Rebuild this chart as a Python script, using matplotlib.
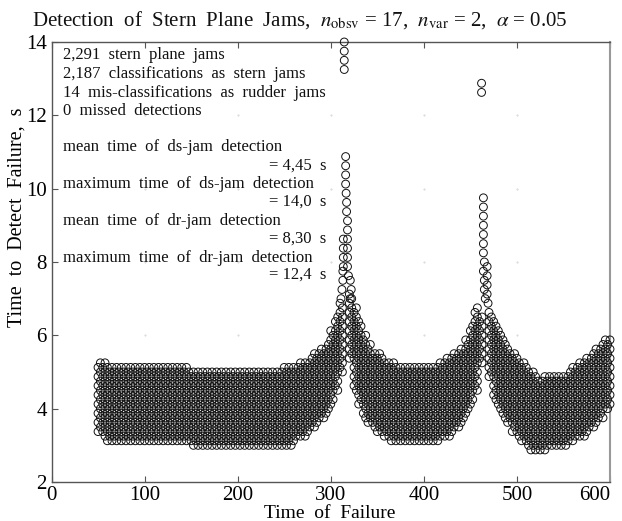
import numpy as np
import matplotlib
matplotlib.use("Agg")
import matplotlib.pyplot as plt

plt.rcParams['font.family'] = ['Liberation Serif', 'DejaVu Serif']
plt.rcParams['mathtext.fontset'] = 'stix'

# failure times (s), read every 5 units; a second staggered column sits 2.5 to the right
fail_start = 50
fail_step = 5
# lowest and highest detection time in each column, nan = only spike points there
time_lo = [3.375, 3.25,
           3.125, 3.125, 3.125, 3.125, 3.125, 3.125, 3.125, 3.125, 3.125,
           3.125, 3.125, 3.125, 3.125, 3.125, 3.125, 3.125, 3.125, 3.125,
           3.0, 3.0, 3.0, 3.0, 3.0, 3.0, 3.0, 3.0, 3.0, 3.0,
           3.0, 3.0, 3.0, 3.0, 3.0, 3.0, 3.0, 3.0, 3.0, 3.0,
           3.0, 3.0, 3.125, 3.25, 3.25, 3.375, 3.5, 3.625, 3.75, 3.875,
           4.125, 4.5, 5.0, np.nan,
           5.375, 4.5, 4.125, 3.75, 3.625, 3.5, 3.375, 3.25, 3.25, 3.125,
           3.125, 3.125, 3.125, 3.125, 3.125, 3.125, 3.125, 3.125, 3.125,
           3.125, 3.25, 3.25, 3.375, 3.5, 3.625, 3.875, 4.125, 4.5, 5.25, np.nan,
           4.875, 4.25, 4.0, 3.75, 3.625, 3.375, 3.25, 3.125, 3.0, 2.875,
           2.875, 2.875, 2.875, 3.0, 3.0, 3.0, 3.0, 3.125, 3.125, 3.25,
           3.25, 3.375, 3.5, 3.625, 3.75, 4.0, 4.125]
time_hi = [5.25, 5.25,
           5.125, 5.125, 5.125, 5.125, 5.125, 5.125, 5.125, 5.125, 5.125,
           5.125, 5.125, 5.125, 5.125, 5.125, 5.125, 5.125, 5.125, 5.125,
           5.0, 5.0, 5.0, 5.0, 5.0, 5.0, 5.0, 5.0, 5.0, 5.0,
           5.0, 5.0, 5.0, 5.0, 5.0, 5.0, 5.0, 5.0, 5.0, 5.0,
           5.125, 5.125, 5.125, 5.25, 5.25, 5.25, 5.5, 5.5, 5.625, 5.75,
           6.125, 6.5, 6.875, np.nan,
           7.125, 6.75, 6.375, 6.0, 5.75, 5.5, 5.5, 5.375, 5.25, 5.25,
           5.125, 5.125, 5.125, 5.125, 5.125, 5.125, 5.125, 5.125, 5.125,
           5.25, 5.25, 5.375, 5.5, 5.5, 5.625, 5.875, 6.25, 6.75, 6.5, np.nan,
           6.625, 6.375, 6.125, 5.875, 5.625, 5.5, 5.375, 5.25, 5.125, 5.0,
           4.875, 4.75, 4.875, 4.875, 4.875, 4.875, 4.875, 5.0, 5.125, 5.25,
           5.25, 5.375, 5.5, 5.625, 5.75, 5.875, 6.0]

# isolated detections above the two peaks
spike_x = [314.5, 314.5, 314.5, 314.5,
           316, 316, 316, 316, 316.5, 317, 317, 318, 318,
           313.5, 313.5, 313.5, 313.5, 318, 318, 318, 318,
           313, 313, 312, 311, 319, 321, 322, 321,
           462, 462,
           464, 464, 464, 464, 464, 464, 464,
           465, 468, 464, 468, 465, 468, 465, 468, 466, 469]
spike_y = [14.0, 13.75, 13.5, 13.25,
           10.875, 10.625, 10.375, 10.125, 9.875, 9.625, 9.375, 9.125, 8.875,
           8.625, 8.375, 8.125, 7.875, 8.625, 8.375, 8.125, 7.875,
           7.75, 7.5, 7.25, 7.0, 7.625, 7.5, 7.25, 7.0,
           12.875, 12.625,
           9.75, 9.5, 9.25, 9.0, 8.75, 8.5, 8.25,
           8.0, 7.875, 7.75, 7.625, 7.5, 7.375, 7.25, 7.125, 7.0, 6.875]

x_ticks = [0, 100, 200, 300, 400, 500, 600]
y_ticks = [2, 4, 6, 8, 10, 12, 14]

stats_lines = ["2,291  stern  plane  jams",
               "2,187  classifications  as  stern  jams",
               "14  mis-classifications  as  rudder  jams",
               "0  missed  detections",
               "mean  time  of  ds-jam  detection",
               "maximum  time  of  ds-jam  detection",
               "mean  time  of  dr-jam  detection",
               "maximum  time  of  dr-jam  detection"]
stats_y = [13.64, 13.13, 12.62, 12.12, 11.14, 10.13, 9.13, 8.12]
result_lines = ["= 4,45  s", "= 14,0  s", "= 8,30  s", "= 12,4  s"]
result_y = [10.64, 9.64, 8.65, 7.65]

# expand the read column limits onto the 0.125 s detection grid
xs, ys = [], []
for i, (lo, hi) in enumerate(zip(time_lo, time_hi)):
    if np.isnan(lo):
        continue
    base = fail_start + i * fail_step
    for j in range(int(round(lo * 8)), int(round(hi * 8)) + 1):
        if j % 2 == 1:
            xs.append(base)
            ys.append(j / 8)
        elif base + 2.5 <= 600:
            xs.append(base + 2.5)
            ys.append(j / 8)
xs += spike_x
ys += spike_y

fig = plt.figure(figsize=(6.22, 5.21), dpi=100)
ax = fig.add_axes([51.5 / 622, 1 - 482 / 521, 558.5 / 622, 440 / 521])
ax.scatter(xs, ys, s=32, facecolors='none', edgecolors='#111111', linewidths=0.7, clip_on=False, zorder=3)

gx, gy = np.meshgrid(x_ticks[1:-1], y_ticks[1:-1])
ax.plot(gx.ravel(), gy.ravel(), ls='none', marker='.', ms=0.8, color='#cccccc', zorder=1)

ax.set_xlim(0, 600)
ax.set_ylim(2, 14)
ax.set_xticks(x_ticks)
ax.set_yticks(y_ticks)
ax.tick_params(direction='in', length=4, width=0.8, color='#555555', labelsize=15, top=True)
ax.tick_params(axis='x', pad=3)
for s in ax.spines.values():
    s.set_color('#555555')
    s.set_linewidth(1.0)
ax.spines['right'].set_color('#999999')
ax.spines['right'].set_linewidth(1.5)
# the last label sits left of its tick so it stays on the page
ax.get_xticklabels()[-1].set_ha('right')

for t, y in zip(stats_lines, stats_y):
    ax.text(12.4, y, t, fontsize=12, va='center', ha='left', color='#111111')
for t, y in zip(result_lines, result_y):
    ax.text(295, y, t, fontsize=12, va='center', ha='right', color='#111111')

fig.text(330 / 622, 1 - 513 / 521, "Time  of  Failure", fontsize=14, ha='center', va='center')
fig.text(17 / 622, 1 - 217 / 521, "Time  to  Detect  Failure,  s", fontsize=14.5,
         rotation=90, ha='center', va='center')
fig.text(300 / 622, 1 - 20 / 521,
         r"Detection  of  Stern  Plane  Jams,  $n_{\mathrm{obsv}}$ = 17,  $n_{\mathrm{var}}$ = 2,  $\alpha$ = 0.05",
         fontsize=15, ha='center', va='center', color='#111111')

fig.savefig("out.png", dpi=100)
